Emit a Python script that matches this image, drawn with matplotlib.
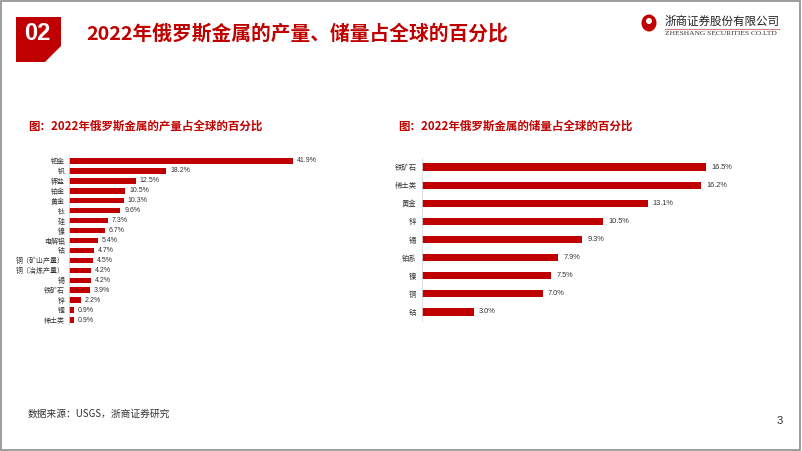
import matplotlib.pyplot as plt
from matplotlib.patches import Polygon, Rectangle, Ellipse

plt.rcParams['font.family'] = ['Noto Sans CJK SC', 'DejaVu Sans']

# Left chart: production share
prod_names = ['钯金', '钒', '钾盐', '铂金', '黄金', '钛', '硅', '镍', '电解铝', '钴',
              '铜（矿山产量）', '铜（冶炼产量）', '锡', '铁矿石', '锌', '锂', '稀土类']
prod_vals = [41.9, 18.2, 12.5, 10.5, 10.3, 9.6, 7.3, 6.7, 5.4, 4.7,
             4.5, 4.2, 4.2, 3.9, 2.2, 0.9, 0.9]

# Right chart: reserves share
res_names = ['铁矿石', '稀土类', '黄金', '锌', '锡', '铂系', '镍', '铜', '钴']
res_vals = [16.5, 16.2, 13.1, 10.5, 9.3, 7.9, 7.5, 7.0, 3.0]

RED = '#C00000'
W, H = 802, 451

fig = plt.figure(figsize=(W / 100, H / 100), dpi=100)
fig.patch.set_facecolor('white')


def fx(x):
    return x / W


def fy(y):
    return 1 - y / H


# outer frame
fig.patches.append(Rectangle((0.001, 0.002), 0.997, 0.995, transform=fig.transFigure,
                             fill=False, edgecolor='#8c8c8c', linewidth=1.2))

# header block "02"
pts = [(16, 17), (61, 17), (61, 46), (45, 62), (16, 62)]
fig.patches.append(Polygon([(fx(a), fy(b)) for a, b in pts], closed=True,
                           transform=fig.transFigure, facecolor=RED, edgecolor='none'))
fig.text(fx(37), fy(34), '02', color='white', fontsize=17, fontweight='bold',
         ha='center', va='center', family=['Liberation Sans', 'DejaVu Sans'])
fig.text(fx(86), fy(33), '2022年俄罗斯金属的产量、储量占全球的百分比', color=RED,
         fontsize=14.2, fontweight='bold', ha='left', va='center')

# logo
fig.patches.append(Ellipse((fx(649), fy(23)), 15 / W, 17 / H, transform=fig.transFigure,
                           facecolor=RED, edgecolor='none'))
fig.patches.append(Ellipse((fx(649), fy(21)), 6 / W, 6 / H, transform=fig.transFigure,
                           facecolor='white', edgecolor='none'))
fig.text(fx(665), fy(21), '浙商证券股份有限公司', color='#222222', fontsize=8.3,
         ha='left', va='center')
fig.lines.append(plt.Line2D([fx(665), fx(779)], [fy(28.5), fy(28.5)], transform=fig.transFigure,
                            color='#d08080', linewidth=0.8))
fig.text(fx(665), fy(33.5), 'ZHESHANG SECURITIES CO.LTD', color='#333333', fontsize=5.4,
         ha='left', va='center', family=['Liberation Serif', 'DejaVu Serif'])

# subtitles
fig.text(fx(28), fy(126), '图：2022年俄罗斯金属的产量占全球的百分比', color=RED,
         fontsize=8.3, fontweight='bold', ha='left', va='center')
fig.text(fx(398), fy(126), '图：2022年俄罗斯金属的储量占全球的百分比', color=RED,
         fontsize=8.3, fontweight='bold', ha='left', va='center')

# left chart
ax1 = fig.add_axes([fx(69), fy(325), (310 - 69) / W, (325 - 156) / H])
y1 = list(range(len(prod_vals)))
ax1.barh(y1, prod_vals, height=0.55, color=RED)
ax1.set_ylim(len(prod_vals) - 0.5, -0.5)
ax1.set_xlim(0, 45)
for yy, v in zip(y1, prod_vals):
    ax1.text(v + 0.7, yy, f'{v:.1f}%', fontsize=5, va='center', ha='left', color='#333333',
             family=['Liberation Sans', 'DejaVu Sans'])
ax1.set_yticks(y1)
ax1.set_yticklabels(prod_names, fontsize=5, color='#333333')
ax1.set_xticks([])
ax1.tick_params(axis='y', length=0, pad=3)
for s in ['top', 'right', 'bottom']:
    ax1.spines[s].set_visible(False)
ax1.spines['left'].set_color('#d9d9d9')
ax1.spines['left'].set_linewidth(0.6)

# right chart
ax2 = fig.add_axes([fx(422), fy(321), (732 - 422) / W, (321 - 158) / H])
y2 = list(range(len(res_vals)))
ax2.barh(y2, res_vals, height=0.4, color=RED)
ax2.set_ylim(len(res_vals) - 0.5, -0.5)
ax2.set_xlim(0, 18)
for yy, v in zip(y2, res_vals):
    ax2.text(v + 0.3, yy, f'{v:.1f}%', fontsize=5.3, va='center', ha='left', color='#333333',
             family=['Liberation Sans', 'DejaVu Sans'])
ax2.set_yticks(y2)
ax2.set_yticklabels(res_names, fontsize=5.3, color='#333333')
ax2.set_xticks([])
ax2.tick_params(axis='y', length=0, pad=4)
for s in ['top', 'right', 'bottom']:
    ax2.spines[s].set_visible(False)
ax2.spines['left'].set_color('#d9d9d9')
ax2.spines['left'].set_linewidth(0.6)

# footer
fig.text(fx(28), fy(414), '数据来源：USGS，浙商证券研究', fontsize=7, color='#333333',
         ha='left', va='center')
fig.text(fx(780), fy(421), '3', fontsize=8, color='#333333', ha='center', va='center',
         family=['Liberation Sans', 'DejaVu Sans'])

fig.savefig('out.png', dpi=100, facecolor='white')
